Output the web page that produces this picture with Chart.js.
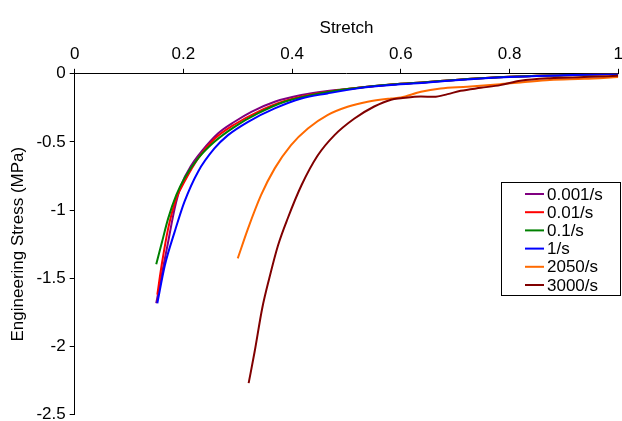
<!DOCTYPE html>
<html>
<head>
<meta charset="utf-8">
<script src="https://cdn.jsdelivr.net/npm/chart.js@4"></script>
<style>
  html, body { margin: 0; padding: 0; background: #fff; overflow: hidden; }
  #wrap { width: 627px; height: 427px; }
</style>
</head>
<body>
<div id="wrap"><canvas id="chart"></canvas></div>
<script>
const labels = ['0.001/s', '0.01/s', '0.1/s', '1/s', '2050/s', '3000/s'];
const colors = ['#800080', '#ff0000', '#008000', '#0000ff', '#ff6a00', '#800000'];

const stretch0001 = [0.150, 0.160, 0.172, 0.184, 0.196, 0.215, 0.233, 0.264, 0.294, 0.325, 0.368, 0.417, 0.465, 0.521, 0.582, 0.65, 0.7, 0.8, 0.9, 1.0];
const stress0001 = [-1.684, -1.476, -1.232, -0.987, -0.816, -0.670, -0.572, -0.437, -0.352, -0.279, -0.205, -0.156, -0.127, -0.103, -0.078, -0.060, -0.045, -0.022, -0.010, 0];

const stretch001 = [0.152, 0.160, 0.172, 0.187, 0.202, 0.227, 0.257, 0.294, 0.337, 0.386, 0.441, 0.502, 0.582, 0.65, 0.7, 0.8, 0.9, 1.0];
const stress001 = [-1.62, -1.403, -1.134, -0.914, -0.791, -0.621, -0.479, -0.372, -0.279, -0.200, -0.149, -0.112, -0.078, -0.060, -0.045, -0.022, -0.010, 0];

const stretch01 = [0.150, 0.160, 0.172, 0.187, 0.202, 0.227, 0.257, 0.294, 0.337, 0.386, 0.441, 0.502, 0.582, 0.65, 0.7, 0.8, 0.9, 1.0];
const stress01 = [-1.398, -1.244, -1.061, -0.889, -0.767, -0.621, -0.499, -0.389, -0.291, -0.205, -0.152, -0.112, -0.078, -0.060, -0.045, -0.022, -0.010, 0];

const stretch1 = [0.152, 0.166, 0.184, 0.202, 0.227, 0.257, 0.282, 0.319, 0.368, 0.417, 0.465, 0.521, 0.582, 0.65, 0.7, 0.8, 0.9, 1.0];
const stress1 = [-1.684, -1.403, -1.158, -0.938, -0.718, -0.548, -0.450, -0.352, -0.254, -0.181, -0.144, -0.107, -0.083, -0.064, -0.048, -0.024, -0.011, 0];

const stretch2050 = [0.300, 0.319, 0.343, 0.368, 0.398, 0.429, 0.465, 0.502, 0.539, 0.582, 0.600, 0.637, 0.673, 0.722, 0.783, 0.820, 0.874, 0.937, 1.0];
const stress2050 = [-1.354, -1.134, -0.889, -0.694, -0.523, -0.401, -0.303, -0.242, -0.205, -0.181, -0.174, -0.132, -0.108, -0.095, -0.076, -0.064, -0.045, -0.037, -0.024];

const stretch3000 = [0.320, 0.331, 0.345, 0.358, 0.374, 0.392, 0.417, 0.447, 0.478, 0.514, 0.551, 0.582, 0.600, 0.637, 0.661, 0.686, 0.710, 0.747, 0.783, 0.820, 0.874, 0.937, 1.0];
const stress3000 = [-2.27, -2.04, -1.72, -1.50, -1.26, -1.06, -0.82, -0.60, -0.45, -0.33, -0.24, -0.19, -0.18, -0.166, -0.169, -0.149, -0.125, -0.103, -0.083, -0.051, -0.032, -0.024, -0.015];

const xs = [stretch0001, stretch001, stretch01, stretch1, stretch2050, stretch3000];
const ys = [stress0001, stress001, stress01, stress1, stress2050, stress3000];

const FONT = 'Liberation Sans, Arial, sans-serif';

// legend box drawn inside the plot, like the original
const boxLegend = {
  id: 'boxLegend',
  afterDraw(chart) {
    const ctx = chart.ctx;
    const x0 = 501.5, y0 = 182.5, w = 119, h = 113;
    ctx.save();
    ctx.fillStyle = '#fff';
    ctx.fillRect(x0, y0, w, h);
    ctx.strokeStyle = '#000';
    ctx.lineWidth = 1;
    ctx.strokeRect(x0, y0, w, h);
    ctx.font = '17px ' + FONT;
    ctx.textBaseline = 'middle';
    chart.data.datasets.forEach((ds, i) => {
      const y = 194 + i * 18.2;
      ctx.strokeStyle = ds.borderColor;
      ctx.lineWidth = 2;
      ctx.beginPath();
      ctx.moveTo(525, y);
      ctx.lineTo(544, y);
      ctx.stroke();
      ctx.fillStyle = '#000';
      ctx.fillText(ds.label, 547, y + 1);
    });
    ctx.restore();
  }
};

const plain = v => String(Math.round(v * 10) / 10);

new Chart(document.getElementById('chart'), {
  type: 'scatter',
  data: {
    datasets: labels.map((lab, i) => ({
      label: lab,
      data: xs[i].map((x, j) => ({ x: x, y: ys[i][j] })),
      borderColor: colors[i],
      backgroundColor: colors[i],
      showLine: true,
      pointRadius: 0,
      borderWidth: 2,
      cubicInterpolationMode: 'monotone',
      order: labels.length - i
    }))
  },
  options: {
    responsive: true,
    maintainAspectRatio: false,
    animation: false,
    layout: { padding: { left: 8, right: 0, top: 18, bottom: 0 } },
    plugins: {
      legend: { display: false },
      tooltip: { enabled: false }
    },
    scales: {
      x: {
        type: 'linear',
        position: 'top',
        min: 0,
        max: 1,
        ticks: { stepSize: 0.2, callback: plain, color: '#000', font: { family: FONT, size: 17 }, padding: 4 },
        grid: { drawOnChartArea: false, tickLength: 5, color: '#000' },
        border: { color: '#000' },
        title: { display: true, text: 'Stretch', color: '#000', font: { family: FONT, size: 17 }, padding: { top: 0, bottom: 2 } }
      },
      y: {
        min: -2.5,
        max: 0,
        ticks: { stepSize: 0.5, callback: plain, color: '#000', font: { family: FONT, size: 17, lineHeight: 1 }, padding: 4 },
        grid: { drawOnChartArea: false, tickLength: 5, color: '#000' },
        border: { color: '#000' },
        title: { display: true, text: 'Engineering Stress (MPa)', color: '#000', font: { family: FONT, size: 17 }, padding: { top: 0, bottom: 4 } }
      }
    }
  },
  plugins: [boxLegend]
});
</script>
</body>
</html>
